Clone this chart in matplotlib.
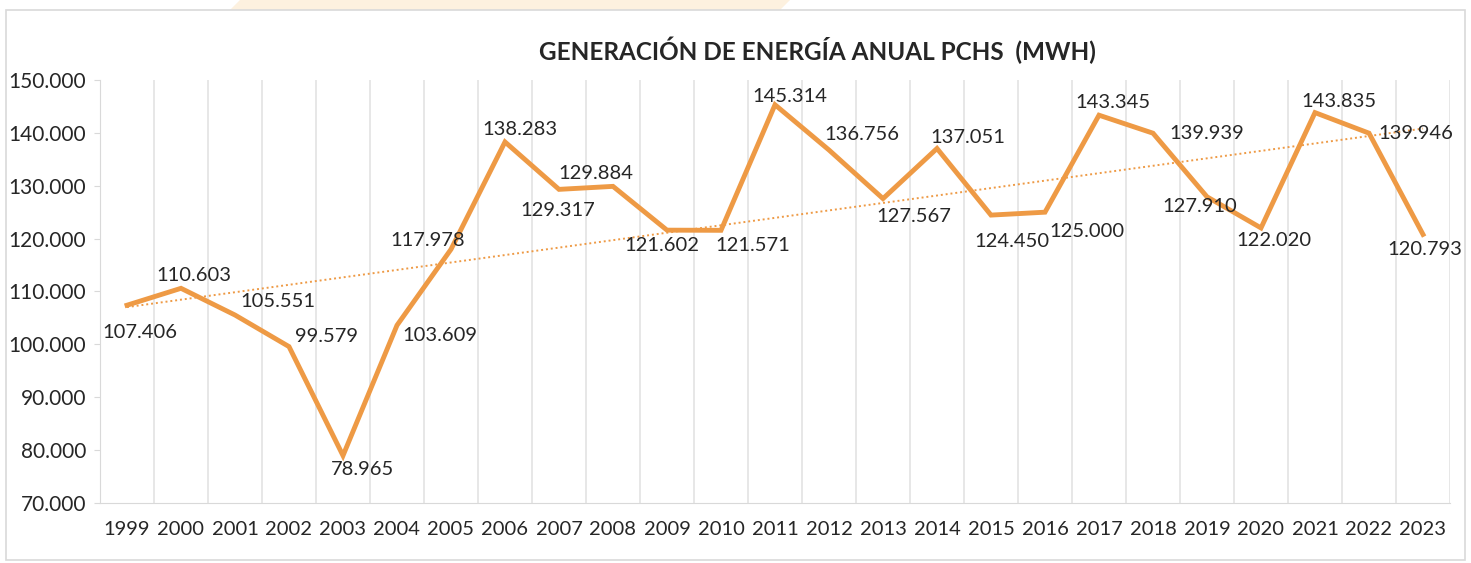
import numpy as np
import matplotlib
matplotlib.use("Agg")
import matplotlib.pyplot as plt
from matplotlib.patches import Rectangle, Polygon

plt.rcParams['font.family'] = ['Lato', 'DejaVu Sans']

# data
years = [str(y) for y in range(1999, 2024)]
energia = [107.406, 110.603, 105.551, 99.579, 78.965, 103.609, 117.978, 138.283,
           129.317, 129.884, 121.602, 121.571, 145.314, 136.756, 127.567, 137.051,
           124.450, 125.000, 143.345, 139.939, 127.910, 122.020, 143.835, 139.946,
           120.793]
yticks = [70, 80, 90, 100, 110, 120, 130, 140, 150]

# label offsets (points) for each value label
offsets = [(9, -20), (9, 9), (31, 10), (27, 7), (14, -10), (31, -7), (-17, 6),
           (11, 9), (-1, -15), (-12, 9), (-4, -11), (23, -11), (11, 6), (24, 11),
           (22, -13), (22, 8), (15, -19), (30, -14), (10, 9), (39, 0), (-5, -7),
           (9, -9), (17, 8), (34, 0), (1, -11)]

orange = '#EE9A45'
txt = '#262626'

fig = plt.figure(figsize=(14.71, 5.63), dpi=100)

# faint banner shape at the top and the chart frame
fig.patches.append(Polygon([(240/1471, 1), (790/1471, 1), (780/1471, 1 - 10/563),
                            (230/1471, 1 - 10/563)], closed=True,
                           transform=fig.transFigure, facecolor='#FDF1DF',
                           edgecolor='none'))
fig.patches.append(Rectangle((6/1471, 3/563), 1459/1471, 550/563,
                             transform=fig.transFigure, facecolor='none',
                             edgecolor='#D9D9D9', lw=1.2))

ax = fig.add_axes([100/1471, 1 - 503/563, 1350/1471, 423/563])
x = np.arange(len(years))

# trend line (linear fit)
coef = np.polyfit(x, energia, 1)
ax.plot(x, np.polyval(coef, x), color=orange, lw=1.4, ls=(0, (1, 1.5)), zorder=2)

ax.plot(x, energia, color=orange, lw=3.5, solid_joinstyle='miter', zorder=3)

for xi, v, (dx, dy) in zip(x, energia, offsets):
    ax.annotate(f"{v:.3f}", (xi, v), xytext=(dx, dy), textcoords='offset points',
                ha='center', va='center', fontsize=14.5, color=txt, zorder=4)

ax.set_xlim(-0.5, len(years) - 0.5)
ax.set_ylim(70, 150)
ax.set_yticks(yticks)
ax.set_yticklabels([f"{t}.000" for t in yticks], fontsize=15, color=txt)
ax.set_xticks(x)
ax.set_xticklabels(years, fontsize=14.5, color=txt)
ax.tick_params(axis='x', length=0, pad=13)
ax.tick_params(axis='y', length=4, color='#D9D9D9', pad=6)

# category boundary lines
for b in np.arange(-0.5, len(years), 1.0):
    ax.axvline(b, color='#E3E3E3', lw=1.2, zorder=1)

for s in ['top', 'right']:
    ax.spines[s].set_visible(False)
ax.spines['left'].set_color('#D9D9D9')
ax.spines['bottom'].set_color('#D9D9D9')

fig.text(817/1471, 1 - 50/563, "GENERACIÓN DE ENERGÍA ANUAL PCHS  (MWH)",
         ha='center', va='center', fontsize=17.5, fontweight='bold', color='#262626')

fig.savefig("out.png", dpi=100)
